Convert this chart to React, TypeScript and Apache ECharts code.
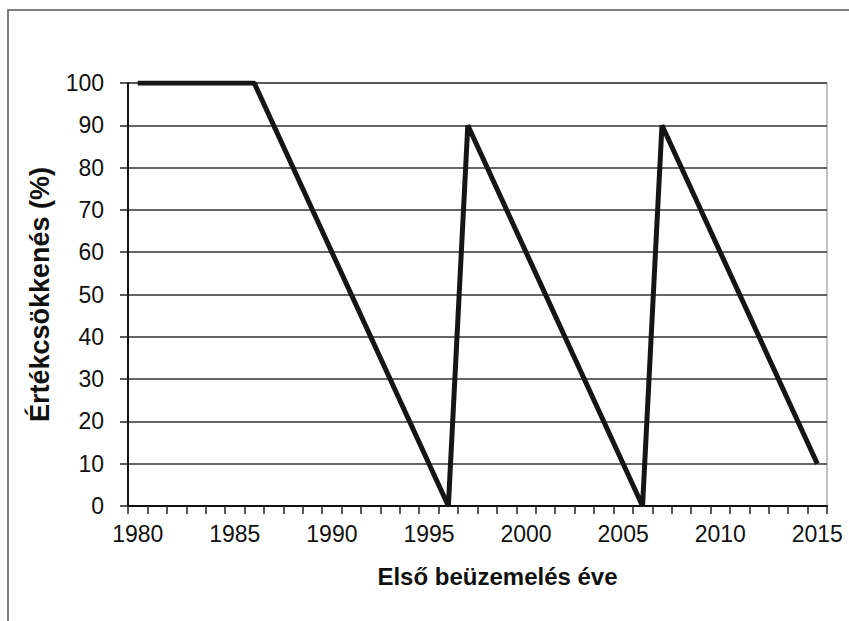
import React, { useEffect, useRef } from "react";
import * as echarts from "echarts";

const years: string[] = [];
for (let y = 1980; y <= 2015; y++) years.push(String(y));

const pointYears = ["1980", "1986", "1996", "1997", "2006", "2007", "2015"];
const pointValues = [100, 100, 0, 90, 0, 90, 10];

const yTitle = "Értékcsökkenés (%)";
const xTitle = "Első beüzemelés éve";

export default function App() {
  const ref = useRef<HTMLDivElement>(null);
  useEffect(() => {
    document.body.style.margin = "0";
    if (!ref.current) return;
    const chart = echarts.init(ref.current, undefined, { renderer: "svg" });
    const font = "'Liberation Sans', Arial, sans-serif";
    chart.setOption({
      animation: false,
      backgroundColor: "#fff",
      textStyle: { fontFamily: font },
      graphic: [
        {
          type: "rect",
          shape: { x: 8, y: 10, width: 900, height: 700 },
          style: { fill: "none", stroke: "#555", lineWidth: 1.5 },
          silent: true,
          z: -1,
        },
      ],
      grid: {
        left: 128,
        right: 22,
        top: 83,
        bottom: 115,
        show: true,
        borderColor: "#888",
        borderWidth: 1,
      },
      xAxis: {
        type: "category",
        data: years,
        boundaryGap: true,
        name: xTitle,
        nameLocation: "middle",
        nameGap: 58,
        nameTextStyle: {
          fontFamily: font,
          fontSize: 24,
          fontWeight: "bold",
          color: "#111",
          padding: [0, 0, 0, 40],
        },
        axisLine: { show: true, lineStyle: { color: "#111", width: 2 } },
        axisTick: { show: true, interval: 0, length: 8, lineStyle: { color: "#222", width: 1.5 } },
        axisLabel: {
          interval: 4,
          margin: 16,
          fontFamily: font,
          fontSize: 23,
          color: "#111",
        },
        splitLine: { show: false },
      },
      yAxis: {
        type: "value",
        min: 0,
        max: 100,
        interval: 10,
        name: yTitle,
        nameLocation: "middle",
        nameGap: 75,
        nameTextStyle: { fontFamily: font, fontSize: 27, fontWeight: "bold", color: "#111" },
        axisLine: { show: true, lineStyle: { color: "#111", width: 2 } },
        axisTick: { show: true, length: 8, lineStyle: { color: "#222", width: 1.5 } },
        axisLabel: { margin: 24, fontFamily: font, fontSize: 23, color: "#111" },
        splitLine: { show: true, lineStyle: { color: "#333", width: 1.5 } },
      },
      series: [
        {
          type: "line",
          data: pointYears.map((y, i) => [y, pointValues[i]]),
          showSymbol: false,
          lineStyle: { color: "#151515", width: 5 },
          z: 5,
        },
      ],
    });
    return () => chart.dispose();
  }, []);
  return <div ref={ref} style={{ width: 849, height: 621 }} />;
}
